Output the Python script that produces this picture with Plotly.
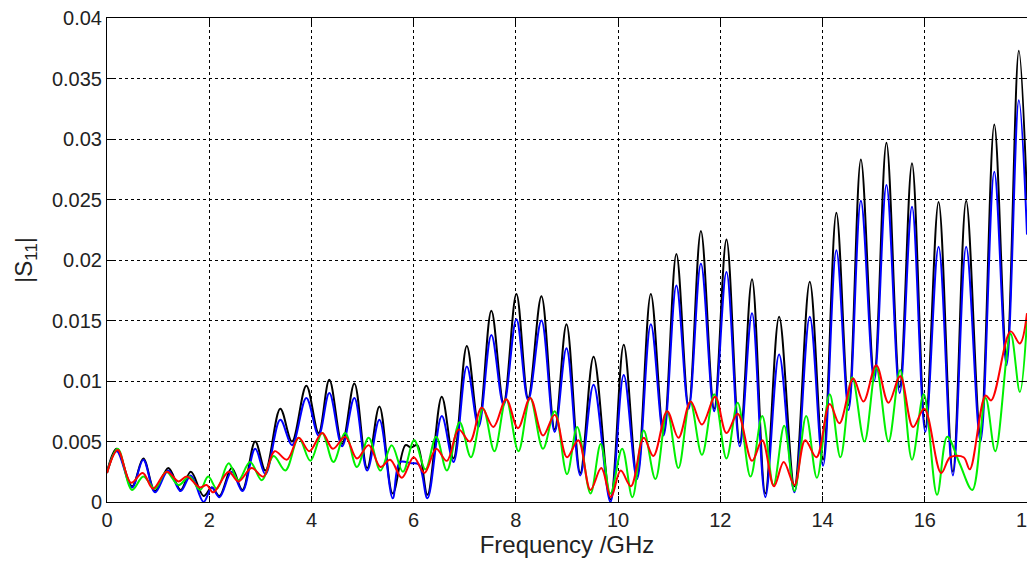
import plotly.graph_objects as go

# ---- data ----
freq_black = [0.00, 0.19, 0.49, 0.71, 0.94, 1.20, 1.44, 1.64, 1.89, 2.05, 2.20, 2.44, 2.65, 2.90, 3.10,
              3.39, 3.62, 3.90, 4.14, 4.35, 4.60, 4.84, 5.09, 5.33, 5.59, 5.84, 5.95, 6.07, 6.27, 6.55,
              6.78, 7.04, 7.27, 7.52, 7.76, 8.01, 8.24, 8.50, 8.76, 8.99, 9.26, 9.52, 9.85, 10.11, 10.37,
              10.64, 10.89, 11.14, 11.38, 11.62, 11.88, 12.12, 12.38, 12.62, 12.88, 13.15, 13.45, 13.75,
              14.01, 14.27, 14.51, 14.75, 15.01, 15.25, 15.51, 15.75, 16.01, 16.27, 16.55, 16.81, 17.09,
              17.36, 17.60, 17.84, 18.00]
s11_black = [0.0025, 0.0044, 0.0013, 0.0036, 0.0009, 0.0028, 0.0010, 0.0025, 0.0005, 0.0012, 0.0005,
             0.0028, 0.0010, 0.0050, 0.0026, 0.0077, 0.0050, 0.0096, 0.0057, 0.0101, 0.0048, 0.0098,
             0.0028, 0.0079, 0.0007, 0.0047, 0.0045, 0.0047, 0.0006, 0.0087, 0.0036, 0.0129, 0.0064,
             0.0158, 0.0082, 0.0172, 0.0086, 0.0170, 0.0060, 0.0147, 0.0024, 0.0120, 0.0002, 0.0130,
             0.0021, 0.0172, 0.0057, 0.0205, 0.0079, 0.0224, 0.0077, 0.0217, 0.0049, 0.0184, 0.0007,
             0.0153, 0.0013, 0.0182, 0.0035, 0.0239, 0.0080, 0.0283, 0.0105, 0.0297, 0.0095, 0.0280,
             0.0062, 0.0248, 0.0025, 0.0249, 0.0055, 0.0312, 0.0119, 0.0373, 0.0250]

freq_blue = [0.00, 0.19, 0.49, 0.71, 0.94, 1.20, 1.44, 1.64, 1.89, 2.05, 2.20, 2.44, 2.65, 2.90, 3.10,
             3.39, 3.62, 3.90, 4.14, 4.35, 4.60, 4.84, 5.09, 5.33, 5.59, 5.73, 5.95, 6.10, 6.27, 6.55,
             6.78, 7.04, 7.27, 7.52, 7.76, 8.01, 8.24, 8.50, 8.76, 8.99, 9.26, 9.52, 9.85, 10.11, 10.37,
             10.64, 10.89, 11.14, 11.38, 11.62, 11.88, 12.12, 12.38, 12.62, 12.88, 13.15, 13.45, 13.75,
             14.01, 14.27, 14.51, 14.75, 15.01, 15.25, 15.51, 15.75, 16.01, 16.27, 16.55, 16.81, 17.09,
             17.36, 17.60, 17.84, 18.00]
s11_blue = [0.0024, 0.0042, 0.0012, 0.0035, 0.0008, 0.0026, 0.0009, 0.0022, 0.0000, 0.0012, 0.0004,
            0.0025, 0.0009, 0.0044, 0.0023, 0.0068, 0.0047, 0.0086, 0.0055, 0.0090, 0.0046, 0.0086,
            0.0026, 0.0068, 0.0003, 0.0033, 0.0032, 0.0031, 0.0003, 0.0071, 0.0033, 0.0112, 0.0062,
            0.0138, 0.0080, 0.0151, 0.0084, 0.0150, 0.0058, 0.0127, 0.0022, 0.0097, 0.0000, 0.0105,
            0.0019, 0.0147, 0.0055, 0.0179, 0.0077, 0.0197, 0.0075, 0.0190, 0.0046, 0.0156, 0.0004,
            0.0122, 0.0008, 0.0153, 0.0030, 0.0208, 0.0076, 0.0249, 0.0100, 0.0262, 0.0090, 0.0244,
            0.0058, 0.0211, 0.0022, 0.0211, 0.0050, 0.0273, 0.0113, 0.0332, 0.0221]

freq_green = [0.00, 0.21, 0.49, 0.71, 0.94, 1.16, 1.40, 1.61, 1.82, 1.98, 2.15, 2.38, 2.57, 2.80, 3.03,
              3.26, 3.49, 3.75, 3.98, 4.21, 4.43, 4.66, 4.89, 5.12, 5.35, 5.57, 5.79, 6.01, 6.23, 6.44,
              6.65, 6.90, 7.12, 7.36, 7.58, 7.81, 8.05, 8.28, 8.53, 8.76, 9.00, 9.20, 9.46, 9.66, 9.85,
              10.08, 10.28, 10.50, 10.73, 10.96, 11.18, 11.41, 11.64, 11.88, 12.12, 12.34, 12.59, 12.82,
              13.04, 13.25, 13.45, 13.68, 13.89, 14.14, 14.35, 14.58, 14.82, 15.05, 15.29, 15.52, 15.75,
              15.98, 16.24, 16.44, 16.68, 16.93, 17.19, 17.38, 17.68, 17.86, 18.00]
s11_green = [0.0024, 0.0044, 0.0010, 0.0021, 0.0011, 0.0025, 0.0014, 0.0021, 0.0010, 0.0021, 0.0011,
             0.0032, 0.0018, 0.0033, 0.0018, 0.0038, 0.0026, 0.0053, 0.0034, 0.0057, 0.0033, 0.0057,
             0.0029, 0.0053, 0.0026, 0.0047, 0.0025, 0.0051, 0.0027, 0.0054, 0.0026, 0.0066, 0.0037,
             0.0077, 0.0042, 0.0085, 0.0042, 0.0086, 0.0044, 0.0075, 0.0023, 0.0062, 0.0007, 0.0048,
             0.0007, 0.0044, 0.0004, 0.0059, 0.0019, 0.0075, 0.0028, 0.0083, 0.0039, 0.0089, 0.0036,
             0.0082, 0.0021, 0.0071, 0.0014, 0.0063, 0.0009, 0.0071, 0.0020, 0.0089, 0.0037, 0.0103,
             0.0050, 0.0111, 0.0050, 0.0109, 0.0035, 0.0089, 0.0006, 0.0054, 0.0032, 0.0010, 0.0086,
             0.0042, 0.0139, 0.0091, 0.0150]

freq_red = [0.00, 0.21, 0.47, 0.70, 0.90, 1.17, 1.40, 1.56, 1.82, 1.95, 2.08, 2.38, 2.57, 2.83, 3.06,
            3.28, 3.52, 3.75, 3.96, 4.21, 4.42, 4.66, 4.89, 5.12, 5.35, 5.54, 5.77, 6.00, 6.21, 6.44,
            6.65, 6.88, 7.10, 7.33, 7.56, 7.81, 8.04, 8.28, 8.53, 8.76, 9.00, 9.22, 9.46, 9.67, 9.86,
            10.05, 10.25, 10.50, 10.69, 10.96, 11.18, 11.42, 11.64, 11.90, 12.12, 12.34, 12.62, 12.82,
            13.05, 13.24, 13.45, 13.66, 13.88, 14.14, 14.33, 14.60, 14.80, 15.05, 15.29, 15.52, 15.77,
            15.99, 16.32, 16.50, 16.76, 16.88, 17.19, 17.30, 17.68, 17.86, 18.00]
s11_red = [0.0024, 0.0043, 0.0016, 0.0024, 0.0011, 0.0025, 0.0017, 0.0021, 0.0012, 0.0014, 0.0008,
           0.0025, 0.0017, 0.0028, 0.0021, 0.0042, 0.0035, 0.0053, 0.0042, 0.0057, 0.0044, 0.0054,
           0.0036, 0.0047, 0.0029, 0.0035, 0.0020, 0.0037, 0.0024, 0.0044, 0.0034, 0.0060, 0.0050,
           0.0078, 0.0062, 0.0085, 0.0061, 0.0086, 0.0055, 0.0072, 0.0037, 0.0051, 0.0010, 0.0028,
           0.0004, 0.0026, 0.0013, 0.0053, 0.0038, 0.0075, 0.0053, 0.0083, 0.0064, 0.0087, 0.0057,
           0.0073, 0.0034, 0.0051, 0.0013, 0.0033, 0.0014, 0.0051, 0.0037, 0.0081, 0.0065, 0.0102,
           0.0083, 0.0113, 0.0082, 0.0104, 0.0062, 0.0077, 0.0024, 0.0037, 0.0037, 0.0027, 0.0088,
           0.0084, 0.0141, 0.0131, 0.0156]

x_ticks = [0, 2, 4, 6, 8, 10, 12, 14, 16, 18]
y_ticks = [0, 0.005, 0.01, 0.015, 0.02, 0.025, 0.03, 0.035, 0.04]
y_tick_text = ["0", "0.005", "0.01", "0.015", "0.02", "0.025", "0.03", "0.035", "0.04"]

series = [
    (freq_black, s11_black, "#000000"),
    (freq_blue, s11_blue, "#0000ff"),
    (freq_green, s11_green, "#00f000"),
    (freq_red, s11_red, "#ff0000"),
]

fig = go.Figure()
for fx, fy, col in series:
    fig.add_trace(go.Scatter(x=fx, y=fy, mode="lines",
                             line=dict(color=col, width=2, shape="spline", smoothing=1.0),
                             showlegend=False, hoverinfo="skip"))

font_family = "Liberation Sans, Arial, sans-serif"
axis_common = dict(
    showline=True, linecolor="#000000", linewidth=1, mirror="ticks",
    ticks="inside", ticklen=6, tickcolor="#000000",
    showgrid=True, gridcolor="#000000", gridwidth=1, griddash="dot",
    zeroline=False, automargin=False, ticklabeloverflow="allow",
    tickfont=dict(family=font_family, size=20, color="#222222"),
)

# the page body adds an 8px offset; the plot area is placed to match the reference
fig.update_layout(
    width=1040, height=553,
    margin=dict(l=99, r=21, t=10, b=59),
    paper_bgcolor="#ffffff", plot_bgcolor="#ffffff",
    font=dict(family=font_family, color="#000000"),
    xaxis=dict(range=[0, 18], tickvals=x_ticks,
               title=dict(text="Frequency /GHz", font=dict(family=font_family, size=24, color="#222222"),
                          standoff=0),
               **axis_common),
    yaxis=dict(range=[0, 0.04], tickvals=y_ticks, ticktext=y_tick_text,
               title=dict(text="|S<sub>11</sub>|", font=dict(family=font_family, size=24, color="#222222"),
                          standoff=12),
               **axis_common),
)

fig.write_html("out.html")
